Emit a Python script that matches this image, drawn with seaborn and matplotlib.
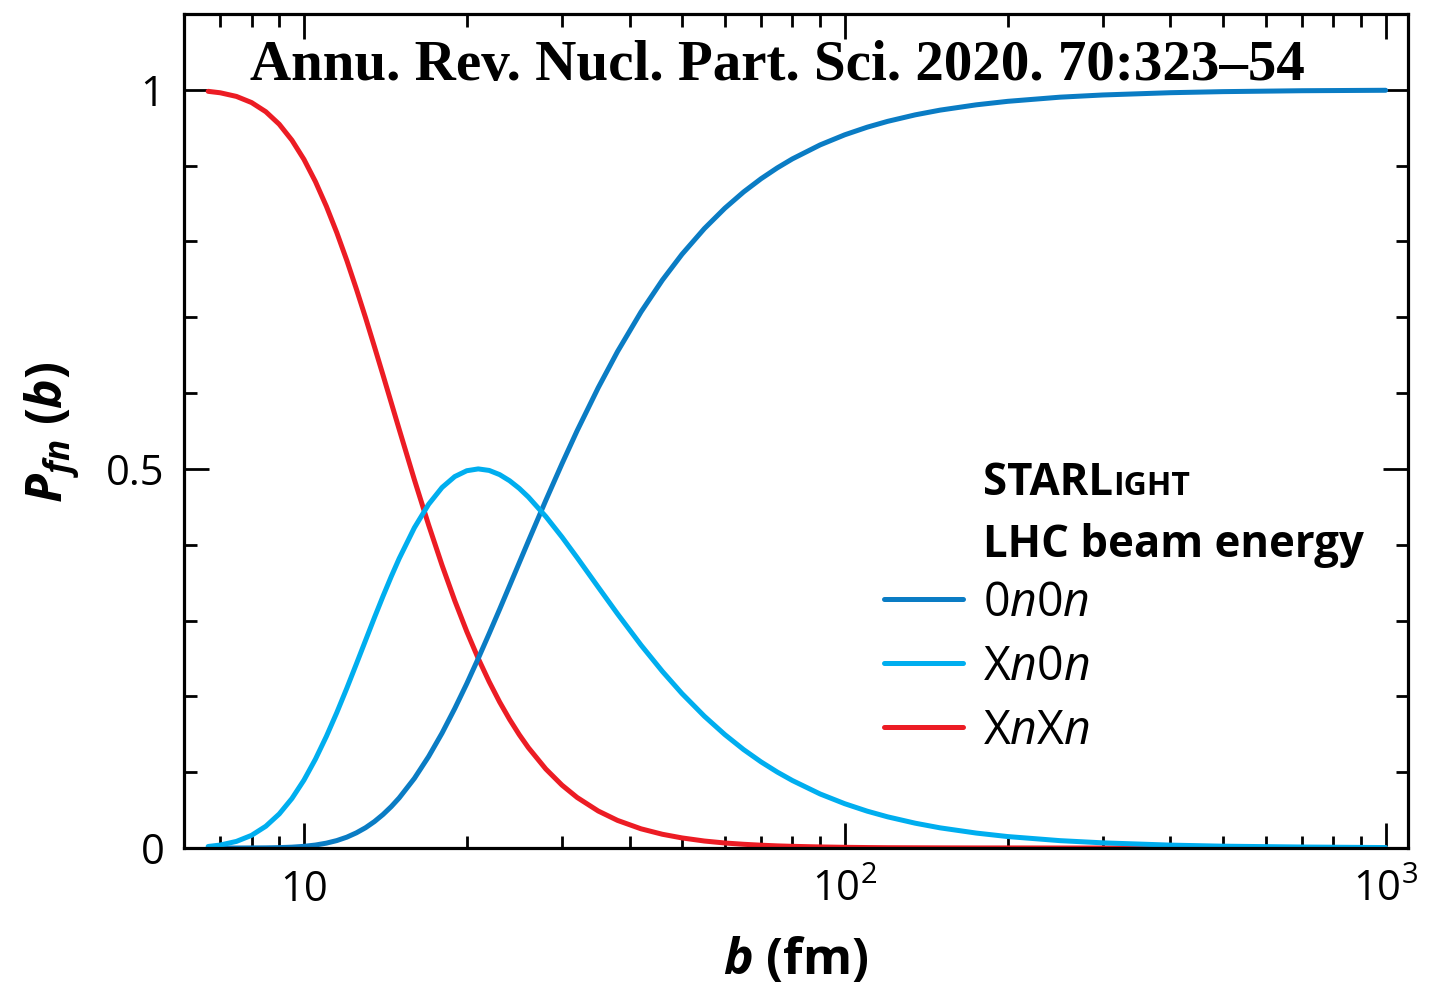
import matplotlib
matplotlib.use("Agg")
import matplotlib.pyplot as plt
import numpy as np
import pandas as pd
import seaborn as sns
from matplotlib.ticker import FixedLocator, NullFormatter, MultipleLocator
from matplotlib.lines import Line2D

# ---------------- data ----------------
b_fm = [6.65, 7, 7.5, 8, 8.5, 9, 9.5, 10, 10.5, 11, 11.5, 12, 12.5, 13, 13.5, 14,
        14.5, 15, 16, 17, 18, 19, 20, 21, 22, 23, 24, 25, 26, 28, 30, 32, 35, 38,
        42, 46, 50, 55, 60, 65, 70, 75, 80, 90, 100, 110, 120, 135, 150, 175, 200,
        250, 300, 400, 500, 700, 1000]
p_0n0n = [0.0000, 0.0000, 0.0000, 0.0001, 0.0002, 0.0005, 0.0011, 0.0022, 0.0039,
          0.0064, 0.0098, 0.0143, 0.0200, 0.0268, 0.0349, 0.0442, 0.0546, 0.0661,
          0.0918, 0.1206, 0.1515, 0.1839, 0.2168, 0.2500, 0.2828, 0.3148, 0.3460,
          0.3760, 0.4048, 0.4585, 0.5069, 0.5505, 0.6071, 0.6548, 0.7071, 0.7491,
          0.7831, 0.8170, 0.8438, 0.8653, 0.8827, 0.8970, 0.9089, 0.9273, 0.9407,
          0.9507, 0.9584, 0.9670, 0.9732, 0.9802, 0.9848, 0.9903, 0.9932, 0.9962,
          0.9976, 0.9988, 0.9994]
p_xn0n = [0.0020, 0.0039, 0.0087, 0.0167, 0.0287, 0.0449, 0.0653, 0.0896, 0.1172,
          0.1472, 0.1786, 0.2107, 0.2428, 0.2740, 0.3040, 0.3321, 0.3581, 0.3819,
          0.4224, 0.4533, 0.4755, 0.4899, 0.4976, 0.5000, 0.4980, 0.4925, 0.4844,
          0.4744, 0.4629, 0.4372, 0.4101, 0.3829, 0.3441, 0.3088, 0.2676, 0.2329,
          0.2037, 0.1738, 0.1496, 0.1298, 0.1136, 0.1002, 0.0890, 0.0713, 0.0584,
          0.0486, 0.0411, 0.0327, 0.0266, 0.0197, 0.0151, 0.0097, 0.0068, 0.0038,
          0.0024, 0.0013, 0.0006]
p_xnxn = [0.9980, 0.9961, 0.9913, 0.9832, 0.9711, 0.9546, 0.9335, 0.9082, 0.8789,
          0.8464, 0.8116, 0.7750, 0.7372, 0.6992, 0.6611, 0.6238, 0.5873, 0.5521,
          0.4858, 0.4261, 0.3730, 0.3263, 0.2855, 0.2500, 0.2193, 0.1926, 0.1696,
          0.1496, 0.1323, 0.1042, 0.0829, 0.0666, 0.0488, 0.0364, 0.0253, 0.0181,
          0.0133, 0.0092, 0.0066, 0.0049, 0.0037, 0.0028, 0.0022, 0.0014, 0.0009,
          0.0006, 0.0004, 0.0003, 0.0002, 0.0001, 0.0001, 0.0000, 0.0000, 0.0000,
          0.0000, 0.0000, 0.0000]

series_names = ["0n0n", "Xn0n", "XnXn"]
series_labels = [r"0$n$0$n$", r"X$n$0$n$", r"X$n$X$n$"]
series_colors = ["#0a7cc4", "#00aeef", "#ec1c24"]
x_ticks = [10, 100, 1000]
x_ticklabels = ["10", r"10$^{2}$", r"10$^{3}$"]
y_ticks = [0, 0.5, 1]
y_ticklabels = ["0", "0.5", "1"]
header_text = "Annu. Rev. Nucl. Part. Sci. 2020. 70:323\u201354"

# ---------------- style ----------------
sns.set_style("ticks")
plt.rcParams["font.family"] = ["Open Sans", "DejaVu Sans"]
plt.rcParams["mathtext.fontset"] = "custom"
plt.rcParams["mathtext.rm"] = "Open Sans"
plt.rcParams["mathtext.it"] = "Open Sans:italic"
plt.rcParams["mathtext.bf"] = "Open Sans:bold"
plt.rcParams["mathtext.bfit"] = "Open Sans:italic:bold"
for key in ["text.color", "axes.labelcolor", "xtick.color", "ytick.color",
            "axes.edgecolor"]:
    plt.rcParams[key] = "black"

df = pd.DataFrame({
    "b": b_fm * 3,
    "P": p_0n0n + p_xn0n + p_xnxn,
    "series": [series_names[0]] * len(b_fm) + [series_names[1]] * len(b_fm)
              + [series_names[2]] * len(b_fm),
})
palette = dict(zip(series_names, series_colors))

fig = plt.figure(figsize=(14.46, 9.88), dpi=100)
ax = fig.add_axes([184 / 1446, 140 / 988, 1224 / 1446, 834 / 988])

sns.lineplot(data=df, x="b", y="P", hue="series",
             hue_order=["XnXn", "0n0n", "Xn0n"], palette=palette,
             linewidth=3.6, legend=False, ax=ax, estimator=None, sort=False)

ax.set_xscale("log")
ax.set_xlim(6.0, 1100)
ax.set_ylim(0, 1.1)

ax.xaxis.set_major_locator(FixedLocator(x_ticks))
ax.set_xticklabels(x_ticklabels)
minor_x = [v * d for d in (1, 10, 100) for v in range(2, 10) if 6 <= v * d <= 1000]
ax.xaxis.set_minor_locator(FixedLocator(minor_x))
ax.xaxis.set_minor_formatter(NullFormatter())
ax.yaxis.set_major_locator(FixedLocator(y_ticks))
ax.set_yticklabels(y_ticklabels)
ax.yaxis.set_minor_locator(MultipleLocator(0.1))

ax.tick_params(which="both", direction="in", top=True, right=True,
               width=2.0, color="black", labelsize=30, labelcolor="black")
ax.tick_params(which="major", length=18)
ax.tick_params(which="minor", length=9)
ax.tick_params(axis="x", which="major", pad=15)
ax.tick_params(axis="y", which="major", pad=14)
for s in ax.spines.values():
    s.set_linewidth(2.3)
    s.set_color("black")

ax.set_xlabel(r"$\mathbfit{b}$ (fm)", fontsize=36, fontweight="bold")
ax.set_ylabel(r"$\mathbfit{P}_{\mathbfit{fn}}$ ($\mathbfit{b}$)", fontsize=36,
              fontweight="bold")
ax.xaxis.set_label_coords(0.4996, (848 - 936) / 834)
ax.yaxis.set_label_coords((82 - 184) / 1224, 0.499)

ax.text(0.4845, 0.921, header_text, transform=ax.transAxes, ha="center",
        va="baseline", fontsize=41, fontweight="bold",
        family=["Liberation Serif", "DejaVu Serif"])

# legend
handles = [Line2D([], [], color=c, linewidth=3.6) for c in series_colors]
ax.legend(handles, series_labels, loc="upper left",
          bbox_to_anchor=((884 - 184) / 1224, (848 - 579) / 834),
          frameon=False, fontsize=33.5, handlelength=1.7, handletextpad=0.43,
          labelspacing=0.357, borderpad=0, borderaxespad=0)

# header lines of the legend block
x0 = (983 - 184) / 1224
t1 = ax.text(x0, (848 - 495) / 834, "STARL", transform=ax.transAxes,
             ha="left", va="baseline", fontsize=31.5, fontweight="bold")
ax.text(x0, (848 - 557) / 834, "LHC beam energy", transform=ax.transAxes,
        ha="left", va="baseline", fontsize=31.5, fontweight="bold")
fig.canvas.draw()
bb = t1.get_window_extent()
xa, _ = ax.transAxes.inverted().transform((bb.x1, bb.y0))
ax.text(xa, (848 - 495) / 834, "IGHT", transform=ax.transAxes,
        ha="left", va="baseline", fontsize=23, fontweight="bold")

fig.savefig("out.png", dpi=100)
